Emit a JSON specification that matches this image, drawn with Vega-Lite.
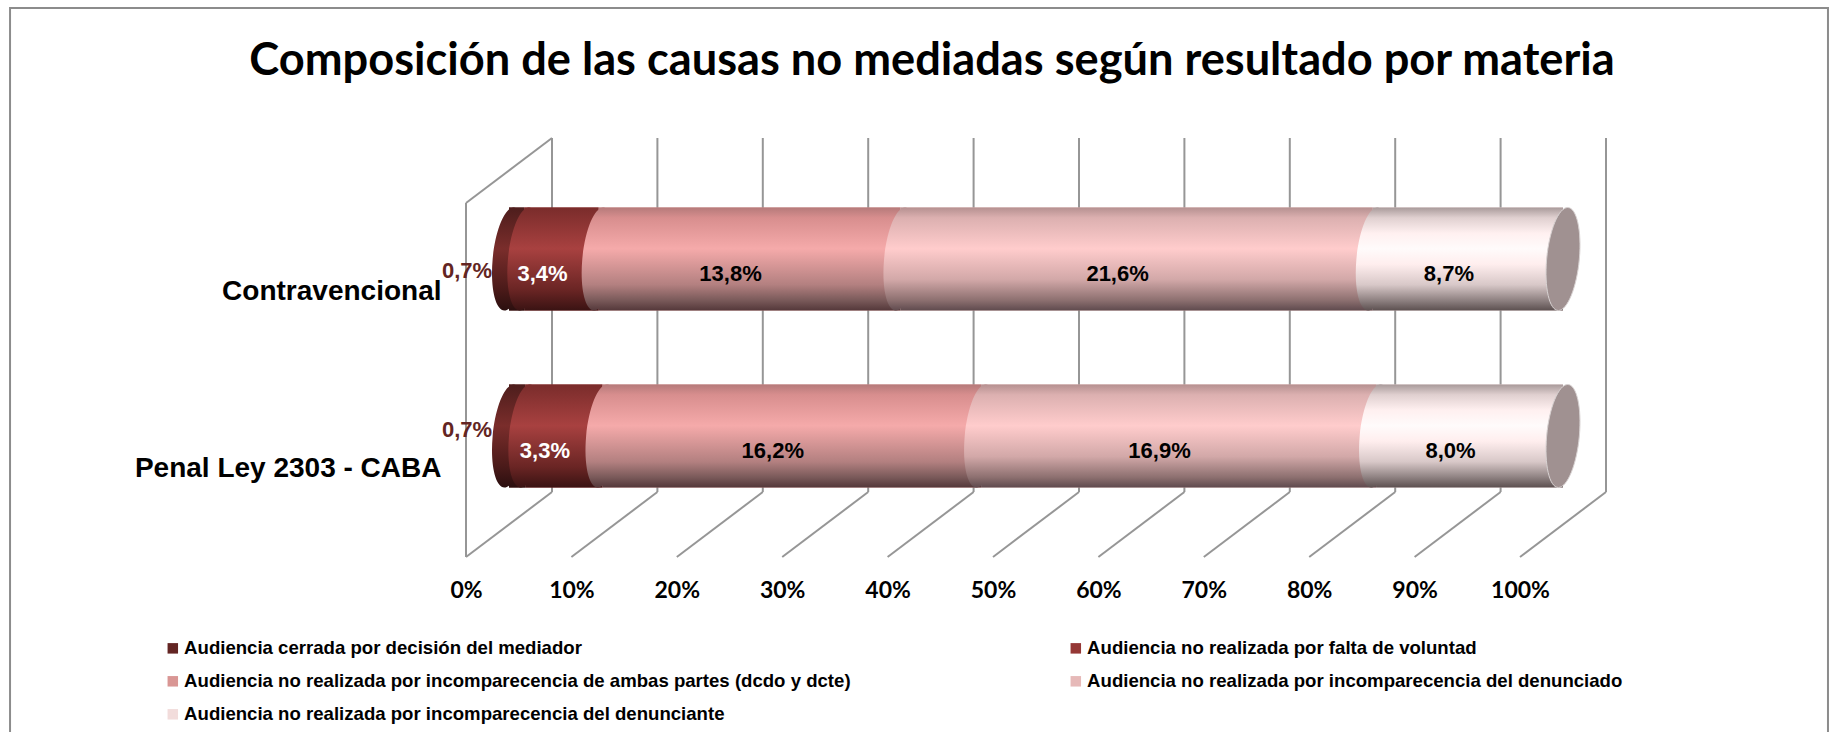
{
"$schema":"https://vega.github.io/schema/vega-lite/v6.json",
"width":1054,"height":354,
"autosize":{"type":"none"},
"padding":{"left":466,"top":203,"right":316,"bottom":175},
"background":"white",
"view":{"stroke":null},
"title":{"text":"Composición de las causas no mediadas según resultado por materia","font":"Lato","fontWeight":"bold","fontSize":45.2,"color":"#000000","anchor":"middle","frame":"group","dx":-61,"offset":-77},
"datasets":{
"causas":[
{"materia":"Contravencional","resultado":"Audiencia cerrada por decisión del mediador","orden":1,"valor":0.7,"etiqueta":"0,7%"},
{"materia":"Contravencional","resultado":"Audiencia no realizada por falta de voluntad","orden":2,"valor":3.4,"etiqueta":"3,4%"},
{"materia":"Contravencional","resultado":"Audiencia no realizada por incomparecencia de ambas partes (dcdo y dcte)","orden":3,"valor":13.8,"etiqueta":"13,8%"},
{"materia":"Contravencional","resultado":"Audiencia no realizada por incomparecencia del denunciado","orden":4,"valor":21.6,"etiqueta":"21,6%"},
{"materia":"Contravencional","resultado":"Audiencia no realizada por incomparecencia del denunciante","orden":5,"valor":8.7,"etiqueta":"8,7%"},
{"materia":"Penal Ley 2303 - CABA","resultado":"Audiencia cerrada por decisión del mediador","orden":1,"valor":0.7,"etiqueta":"0,7%"},
{"materia":"Penal Ley 2303 - CABA","resultado":"Audiencia no realizada por falta de voluntad","orden":2,"valor":3.3,"etiqueta":"3,3%"},
{"materia":"Penal Ley 2303 - CABA","resultado":"Audiencia no realizada por incomparecencia de ambas partes (dcdo y dcte)","orden":3,"valor":16.2,"etiqueta":"16,2%"},
{"materia":"Penal Ley 2303 - CABA","resultado":"Audiencia no realizada por incomparecencia del denunciado","orden":4,"valor":16.9,"etiqueta":"16,9%"},
{"materia":"Penal Ley 2303 - CABA","resultado":"Audiencia no realizada por incomparecencia del denunciante","orden":5,"valor":8.0,"etiqueta":"8,0%"}
],
"rejilla":[{"pct":0},{"pct":0.1},{"pct":0.2},{"pct":0.3},{"pct":0.4},{"pct":0.5},{"pct":0.6},{"pct":0.7},{"pct":0.8},{"pct":0.9},{"pct":1}]
},
"layer":[
{"data":{"name":"rejilla"},
 "layer":[
 {"transform":[{"filter":"datum.pct===0"}],"mark":{"type":"rect","fill":"transparent","stroke":"#8c8c8c","strokeWidth":2,"clip":false},
  "encoding":{"x":{"datum":-0.4326,"type":"quantitative","scale":{"domain":[0,1],"nice":false,"zero":false},"axis":{"format":".0%","values":[0,0.1,0.2,0.3,0.4,0.5,0.6,0.7,0.8,0.9,1],"domain":false,"ticks":false,"grid":false,"labelFont":"Lato","labelFontWeight":"bold","labelFontSize":23,"labelColor":"#000000","labelPadding":22,"title":null,"labelFlush":false,"labelOverlap":false}},"x2":{"datum":1.2922},"y":{"datum":-0.53,"type":"quantitative","scale":{"domain":[0,1],"nice":false,"zero":false},"axis":null},"y2":{"datum":1.551}}},
 {"mark":{"type":"rule","stroke":"#969696","strokeWidth":2,"xOffset":86,"x2Offset":86},
  "encoding":{"x":{"field":"pct","type":"quantitative"},"x2":{"field":"pct"},"y":{"datum":0.1836,"type":"quantitative"},"y2":{"datum":1.1836}}},
 {"mark":{"type":"rule","stroke":"#969696","strokeWidth":2,"x2Offset":86},
  "encoding":{"x":{"field":"pct","type":"quantitative"},"x2":{"field":"pct"},"y":{"datum":0,"type":"quantitative"},"y2":{"datum":0.1836}}},
 {"transform":[{"filter":"datum.pct===0"}],"mark":{"type":"rule","stroke":"#969696","strokeWidth":2},
  "encoding":{"x":{"field":"pct","type":"quantitative"},"y":{"datum":0,"type":"quantitative"},"y2":{"datum":1}}},
 {"transform":[{"filter":"datum.pct===0"}],"mark":{"type":"rule","stroke":"#969696","strokeWidth":2,"x2Offset":86},
  "encoding":{"x":{"field":"pct","type":"quantitative"},"x2":{"field":"pct"},"y":{"datum":1,"type":"quantitative"},"y2":{"datum":1.1836}}}
 ]},
{"data":{"name":"causas"},
 "transform":[{"stack":"valor","groupby":["materia"],"offset":"normalize","sort":[{"field":"orden","order":"ascending"}],"as":["ini","fin"]}],
 "layer":[
 {"mark":{"type":"bar","height":{"band":0.582},"xOffset":43,"x2Offset":43,"yOffset":-32.5,"y2Offset":-32.5},
 "encoding":{"y":{"field":"materia","type":"nominal","sort":null,"scale":{"domain":["Contravencional","Penal Ley 2303 - CABA"],"paddingInner":0,"paddingOuter":0},"axis":{"orient":"left","title":null,"domain":false,"ticks":false,"grid":false,"labelFont":"Liberation Sans","labelFontWeight":"bold","labelFontSize":28,"labelColor":"#000000","labelPadding":25,"labelLimit":400}},
 "x":{"field":"ini","type":"quantitative"},"x2":{"field":"fin"},
 "color":{"field":"resultado","type":"nominal","sort":null,"scale":{"domain":["Audiencia cerrada por decisión del mediador","Audiencia no realizada por incomparecencia de ambas partes (dcdo y dcte)","Audiencia no realizada por incomparecencia del denunciante","Audiencia no realizada por falta de voluntad","Audiencia no realizada por incomparecencia del denunciado"],"range":["#632523","#D99694","#F2DCDB","#953735","#E6B9B8"]},
 "legend":{"title":null,"orient":"none","legendX":-302.5,"legendY":436,"columns":2,"columnPadding":215,"rowPadding":14,"symbolType":"square","symbolSize":110,"symbolStrokeWidth":0,"labelFont":"Liberation Sans","labelFontWeight":"bold","labelFontSize":18.6,"labelColor":"#000000","labelOffset":2,"labelLimit":900}}}},
 {"mark":{"type":"bar","height":{"band":0.582},"xOffset":43,"x2Offset":43,"yOffset":-32.5,"y2Offset":-32.5},
 "encoding":{"y":{"field":"materia","type":"nominal","sort":null},"x":{"field":"ini","type":"quantitative"},"x2":{"field":"fin"},
 "fill":{"condition":[
 {"test":"datum.orden===1","value":{"gradient":"linear","x1":0,"y1":0,"x2":0,"y2":1,"stops":[{"offset":0,"color":"#4d1d1c"},{"offset":0.4,"color":"#7a2d2b"},{"offset":0.8,"color":"#4a1a19"},{"offset":1,"color":"#2b0f0f"}]}},
 {"test":"datum.orden===2","value":{"gradient":"linear","x1":0,"y1":0,"x2":0,"y2":1,"stops":[{"offset":0,"color":"#7a2c2b"},{"offset":0.4,"color":"#a84140"},{"offset":0.8,"color":"#6a2524"},{"offset":1,"color":"#3a1313"}]}},
 {"test":"datum.orden===3","value":{"gradient":"linear","x1":0,"y1":0,"x2":0,"y2":1,"stops":[{"offset":0,"color":"#b57a7a"},{"offset":0.1,"color":"#d88e8e"},{"offset":0.4,"color":"#f5aaaa"},{"offset":0.75,"color":"#b38080"},{"offset":0.9,"color":"#7a5a5a"},{"offset":1,"color":"#54383a"}]}},
 {"test":"datum.orden===4","value":{"gradient":"linear","x1":0,"y1":0,"x2":0,"y2":1,"stops":[{"offset":0,"color":"#b59090"},{"offset":0.1,"color":"#dcb0b0"},{"offset":0.4,"color":"#ffcccc"},{"offset":0.7,"color":"#d2a8a8"},{"offset":0.9,"color":"#8d7070"},{"offset":1,"color":"#5f4a4e"}]}}
 ],"value":{"gradient":"linear","x1":0,"y1":0,"x2":0,"y2":1,"stops":[{"offset":0,"color":"#a89a9a"},{"offset":0.1,"color":"#e0d0d0"},{"offset":0.25,"color":"#fff0f0"},{"offset":0.4,"color":"#fffbfb"},{"offset":0.55,"color":"#ffeeee"},{"offset":0.75,"color":"#d8c8c8"},{"offset":0.9,"color":"#8f8282"},{"offset":1,"color":"#5c5050"}]}}}},
 {"mark":{"type":"point","filled":true,"opacity":1,"strokeWidth":0,"size":10609,"xOffset":43,"yOffset":-32.5,"shape":"M .3175,0 C .3672,-.5523 .2654,-1 .09,-1 C -.0854,-1 -.2678,-.5523 -.3175,0 C -.3672,.5523 -.2654,1 -.09,1 C .0854,1 .2678,.5523 .3175,0 Z"},
 "encoding":{"y":{"field":"materia","type":"nominal","sort":null},"x":{"field":"ini","type":"quantitative"},"order":{"field":"orden"},
 "fill":{"condition":[
 {"test":"datum.orden===1","value":{"gradient":"linear","x1":0,"y1":0,"x2":0,"y2":1,"stops":[{"offset":0,"color":"#4d1d1c"},{"offset":0.4,"color":"#7a2d2b"},{"offset":0.8,"color":"#4a1a19"},{"offset":1,"color":"#2b0f0f"}]}},
 {"test":"datum.orden===2","value":{"gradient":"linear","x1":0,"y1":0,"x2":0,"y2":1,"stops":[{"offset":0,"color":"#7a2c2b"},{"offset":0.4,"color":"#a84140"},{"offset":0.8,"color":"#6a2524"},{"offset":1,"color":"#3a1313"}]}},
 {"test":"datum.orden===3","value":{"gradient":"linear","x1":0,"y1":0,"x2":0,"y2":1,"stops":[{"offset":0,"color":"#b57a7a"},{"offset":0.1,"color":"#d88e8e"},{"offset":0.4,"color":"#f5aaaa"},{"offset":0.75,"color":"#b38080"},{"offset":0.9,"color":"#7a5a5a"},{"offset":1,"color":"#54383a"}]}},
 {"test":"datum.orden===4","value":{"gradient":"linear","x1":0,"y1":0,"x2":0,"y2":1,"stops":[{"offset":0,"color":"#b59090"},{"offset":0.1,"color":"#dcb0b0"},{"offset":0.4,"color":"#ffcccc"},{"offset":0.7,"color":"#d2a8a8"},{"offset":0.9,"color":"#8d7070"},{"offset":1,"color":"#5f4a4e"}]}}
 ],"value":{"gradient":"linear","x1":0,"y1":0,"x2":0,"y2":1,"stops":[{"offset":0,"color":"#a89a9a"},{"offset":0.1,"color":"#e0d0d0"},{"offset":0.25,"color":"#fff0f0"},{"offset":0.4,"color":"#fffbfb"},{"offset":0.55,"color":"#ffeeee"},{"offset":0.75,"color":"#d8c8c8"},{"offset":0.9,"color":"#8f8282"},{"offset":1,"color":"#5c5050"}]}}}},
 {"transform":[{"filter":"datum.orden===5"}],"mark":{"type":"point","filled":true,"opacity":1,"fill":"#a09191","stroke":"#d8d2d2","strokeWidth":1,"size":10609,"xOffset":43,"yOffset":-32.5,"shape":"M .3175,0 C .3672,-.5523 .2654,-1 .09,-1 C -.0854,-1 -.2678,-.5523 -.3175,0 C -.3672,.5523 -.2654,1 -.09,1 C .0854,1 .2678,.5523 .3175,0 Z"},
 "encoding":{"y":{"field":"materia","type":"nominal","sort":null},"x":{"field":"fin","type":"quantitative"}}},
 {"mark":{"type":"text","font":"Liberation Sans","fontWeight":"bold","fontSize":22,"xOffset":24,"yOffset":-18},
 "encoding":{"y":{"field":"materia","type":"nominal","sort":null},"x":{"field":"valor","type":"quantitative","stack":"normalize","bandPosition":0.5},"detail":{"field":"resultado"},"order":{"field":"orden"},"text":{"condition":{"test":"datum.orden>=2","field":"etiqueta"},"value":""},"color":{"condition":{"test":"datum.orden===2","value":"#ffffff"},"value":"#000000"}}},
 {"transform":[{"filter":"datum.orden===1 && datum.materia==='Contravencional'"}],"mark":{"type":"text","font":"Liberation Sans","fontWeight":"bold","fontSize":22,"color":"#632523","xOffset":1,"yOffset":-20.5},
 "encoding":{"y":{"field":"materia","type":"nominal","sort":null},"x":{"field":"ini","type":"quantitative"},"text":{"field":"etiqueta"}}},
 {"transform":[{"filter":"datum.orden===1 && datum.materia==='Penal Ley 2303 - CABA'"}],"mark":{"type":"text","font":"Liberation Sans","fontWeight":"bold","fontSize":22,"color":"#632523","xOffset":1,"yOffset":-38.5},
 "encoding":{"y":{"field":"materia","type":"nominal","sort":null},"x":{"field":"ini","type":"quantitative"},"text":{"field":"etiqueta"}}}
 ]}
],
"resolve":{"scale":{"y":"independent"}}
}
